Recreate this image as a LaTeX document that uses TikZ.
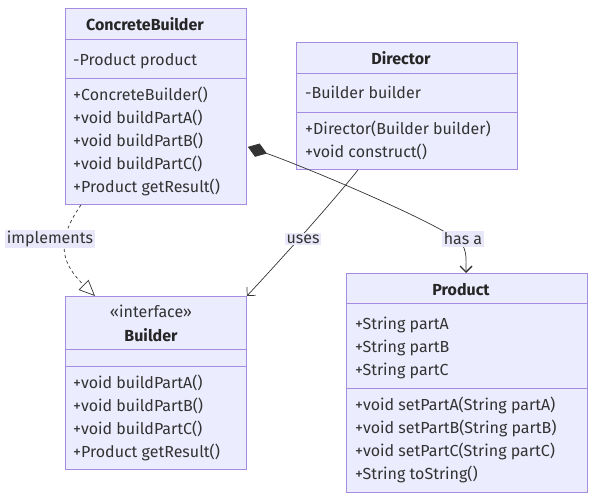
\documentclass[tikz,border=0pt]{standalone}
\usepackage{fontspec}
\setmainfont{Fira Sans}
\usetikzlibrary{arrows.meta, calc}
\definecolor{boxfill}{HTML}{ECECFF}
\definecolor{boxline}{HTML}{A58CE0}
\definecolor{ink}{HTML}{333333}
\definecolor{lblbg}{HTML}{E8E8FA}

\tikzset{
  umlbox/.style={draw=boxline, fill=boxfill, line width=0.9pt, anchor=north west, inner sep=0pt},
  divider/.style={draw=boxline, line width=0.9pt},
  member/.style={anchor=mid west, inner sep=0pt, yshift=-2.2pt, text=ink, font=\fontsize{16}{18}\selectfont},
  title/.style={anchor=mid, inner sep=0pt, yshift=-2.2pt, text=black!85, font=\fontsize{16}{18}\selectfont\bfseries},
  edgelbl/.style={fill=lblbg, inner sep=1.5pt, text=ink, font=\fontsize{16}{18}\selectfont},
  link/.style={draw=ink, line width=0.7pt}
}

\begin{document}
\begin{tikzpicture}[x=1pt, y=-1pt]
\useasboundingbox (0,0) rectangle (595,500);

% Boxes
\node[umlbox, minimum width=181pt, minimum height=196pt] (cb) at (65,8) {};
\node[umlbox, minimum width=221pt, minimum height=127pt] (dir) at (296,42) {};
\node[umlbox, minimum width=181pt, minimum height=173pt] (bld) at (65,296) {};
\node[umlbox, minimum width=241pt, minimum height=219pt] (prod) at (346,273) {};

% Compartment lines
\foreach \y in {39, 78}
  \draw[divider] (cb.west |- 0,\y) -- (cb.east |- 0,\y);
\foreach \y in {73, 112}
  \draw[divider] (dir.west |- 0,\y) -- (dir.east |- 0,\y);
\foreach \y in {349, 366}
  \draw[divider] (bld.west |- 0,\y) -- (bld.east |- 0,\y);
\foreach \y in {303, 388}
  \draw[divider] (prod.west |- 0,\y) -- (prod.east |- 0,\y);

% ConcreteBuilder
\node[title] (cb-name) at (145,26) {ConcreteBuilder};
\foreach \y/\txt in {61/-Product product, 96/+ConcreteBuilder(), 119/+void buildPartA(),
    142/+void buildPartB(), 165/+void buildPartC(), 188/+Product getResult()}
  \node[member] (cb-\y) at (73,\y) {\txt};

% Director
\node[title] (dir-name) at (401,60) {Director};
\foreach \y/\txt in {94/-Builder builder, 130/+Director(Builder builder), 153/+void construct()}
  \node[member] (dir-\y) at (305,\y) {\txt};

% Builder
\node[member, anchor=mid] (bld-stereo) at (151,313) {«interface»};
\node[title] (bld-name) at (151,337) {Builder};
\foreach \y/\txt in {384/+void buildPartA(), 407/+void buildPartB(), 430/+void buildPartC(),
    453/+Product getResult()}
  \node[member] (bld-\y) at (73,\y) {\txt};

% Product
\node[title] (prod-name) at (461,291) {Product};
\foreach \y/\txt in {325/+String partA, 348/+String partB, 371/+String partC,
    406/+void setPartA(String partA), 429/+void setPartB(String partB),
    452/+void setPartC(String partC), 475/+String toString()}
  \node[member] (prod-\y) at (355,\y) {\txt};

% Connector end points
\coordinate (cb-impl) at ($(cb.south west)+(16,0)$);
\coordinate (bld-impl) at ($(bld.north west)+(30,0)$);
\coordinate (dir-use) at ($(dir.south west)+(62,0)$);
\coordinate (cb-has) at ($(cb.south east)+(1,-58)$);
\coordinate (prod-has) at ($(prod.north west)+(120,0)$);

% implements
\draw[link, dash pattern=on 3pt off 3pt, -{Triangle[open, length=16pt, width=14pt]}]
  (cb-impl) .. controls (58,238) and (58,260) .. (bld-impl);
% uses
\draw[link, -{Straight Barb[length=6pt, width=12pt]}]
  (dir-use) .. controls (330,205) and (285,255) .. (bld.north east);
% has a
\draw[link, {Diamond[length=20pt, width=14pt, fill=ink]}-{Straight Barb[length=6pt, width=12pt, line width=1.3pt]}]
  (cb-has) .. controls (300,165) and (420,215) .. (455,238)
  .. controls (468,246) and (466,258) .. (prod-has);

% Edge labels
\node[edgelbl] (lbl-impl) at (50,239) {implements};
\node[edgelbl] (lbl-use) at (303,239) {uses};
\node[edgelbl] (lbl-has) at (463,239) {has a};
\end{tikzpicture}
\end{document}
